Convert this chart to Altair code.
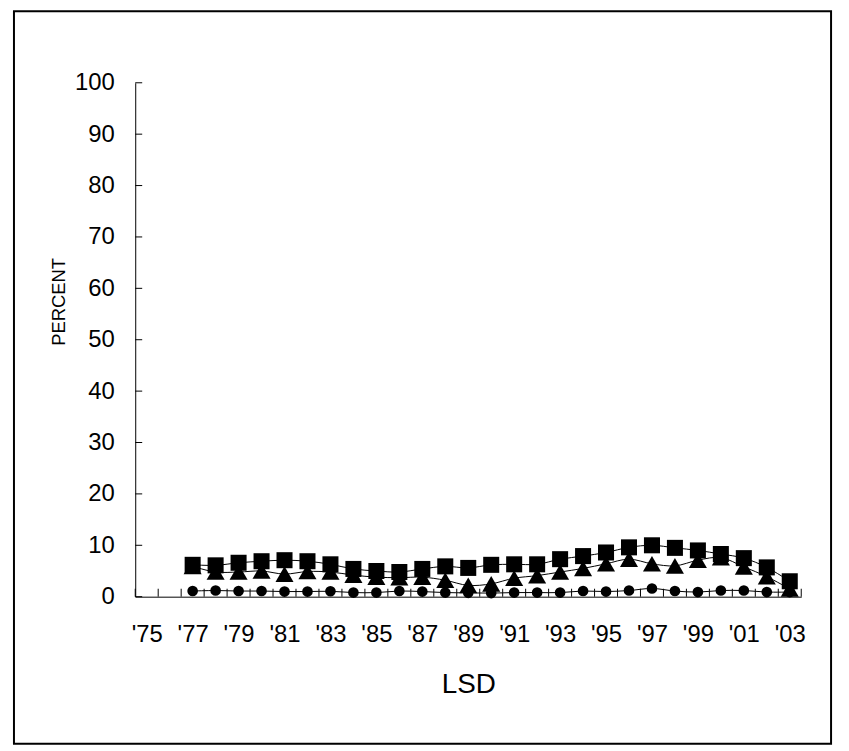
import altair as alt
import pandas as pd

years = list(range(1977, 2004))
squares = [6.2, 6.1, 6.6, 6.9, 7.1, 6.9, 6.3, 5.4, 5.0, 4.8, 5.4, 5.9, 5.6, 6.2,
           6.3, 6.3, 7.3, 7.9, 8.6, 9.6, 10.0, 9.5, 9.0, 8.3, 7.5, 5.7, 3.0]
triangles = [5.9, 4.8, 4.8, 5.0, 4.4, 4.9, 4.8, 4.2, 3.8, 3.7, 3.8, 3.2, 2.2, 2.5,
             3.6, 4.1, 4.8, 5.5, 6.4, 7.3, 6.4, 6.0, 7.1, 7.6, 5.8, 3.9, 1.5]
circles = [1.1, 1.2, 1.1, 1.1, 1.0, 1.0, 1.05, 0.8, 0.8, 1.1, 1.0, 0.8, 0.75, 0.7,
           0.8, 0.8, 0.8, 1.1, 1.0, 1.2, 1.6, 1.1, 0.9, 1.2, 1.2, 0.9, 0.9]
series_names = ["Lifetime", "Annual", "30-Day"]
series_shapes = ["square", "triangle-up", "circle"]
series_sizes = [260, 330, 115]

x_label_years = list(range(1975, 2004, 2))
x_tick_positions = [1974.5 + i for i in range(30)]
y_ticks = list(range(0, 101, 10))

W, H = 670, 517
FONT = "Liberation Sans"

xscale = alt.Scale(domain=[1974.5, 2003.5], nice=False, zero=False)
yscale = alt.Scale(domain=[0, 100], nice=False)

rows = []
for name, vals in zip(series_names, [squares, triangles, circles]):
    for yr, v in zip(years, vals):
        rows.append({"year": yr, "value": v, "series": name})
df = pd.DataFrame(rows)

x_axis = alt.Axis(
    values=x_label_years, format="d",
    labelExpr="\"'\" + slice(datum.label, 2)",
    ticks=False, grid=False, domain=True, domainColor="black", domainWidth=1,
    labelFont=FONT, labelFontSize=24, labelColor="black",
    labelBaseline="top", labelPadding=26, labelFlush=False,
    title="LSD", titleFont=FONT, titleFontSize=28, titleFontWeight="normal",
    titleColor="black", titleBaseline="alphabetic", titleY=96,
)
y_axis = alt.Axis(
    values=y_ticks, ticks=False, grid=False, domain=True, domainColor="black", domainWidth=1,
    labelFont=FONT, labelFontSize=24, labelColor="black", labelPadding=21,
    labelFlush=False,
    title="PERCENT", titleFont=FONT, titleFontSize=18.5, titleFontWeight="normal",
    titleColor="black", titleX=-71, titleY=220, titleAngle=-90,
    titleBaseline="alphabetic", titleAlign="center",
)

X = alt.X("year:Q", scale=xscale, axis=x_axis)
Y = alt.Y("value:Q", scale=yscale, axis=y_axis)

border = alt.Chart(pd.DataFrame({"a": [0]})).mark_rect(
    fill=None, stroke="black", strokeWidth=2
).encode(
    x=alt.value(-122), x2=alt.value(700), y=alt.value(-72), y2=alt.value(665)
)

xticks = alt.Chart(pd.DataFrame({"year": x_tick_positions})).mark_rule(
    color="black", strokeWidth=1
).encode(
    x=X, y=alt.value(H), y2=alt.value(H - 8)
)

yticks = alt.Chart(pd.DataFrame({"value": y_ticks})).mark_rule(
    color="black", strokeWidth=1
).encode(
    y=Y, x=alt.value(0), x2=alt.value(7)
)

lines = alt.Chart(df).mark_line(
    color="black", strokeWidth=1, interpolate="cardinal"
).encode(
    x=X, y=Y, detail="series:N"
)

point_layers = []
for name, shp, sz in zip(series_names, series_shapes, series_sizes):
    point_layers.append(
        alt.Chart(df[df["series"] == name]).mark_point(
            filled=True, opacity=1, color="black", strokeWidth=0, shape=shp, size=sz
        ).encode(x=X, y=Y)
    )

chart = alt.layer(border, xticks, yticks, lines, *point_layers).properties(
    width=W, height=H,
    padding={"left": 128, "top": 73, "right": 40, "bottom": 150},
    autosize="none",
    background="white",
).configure_view(stroke=None)

chart.save("out.html", embed_options={"renderer": "svg", "actions": False})
